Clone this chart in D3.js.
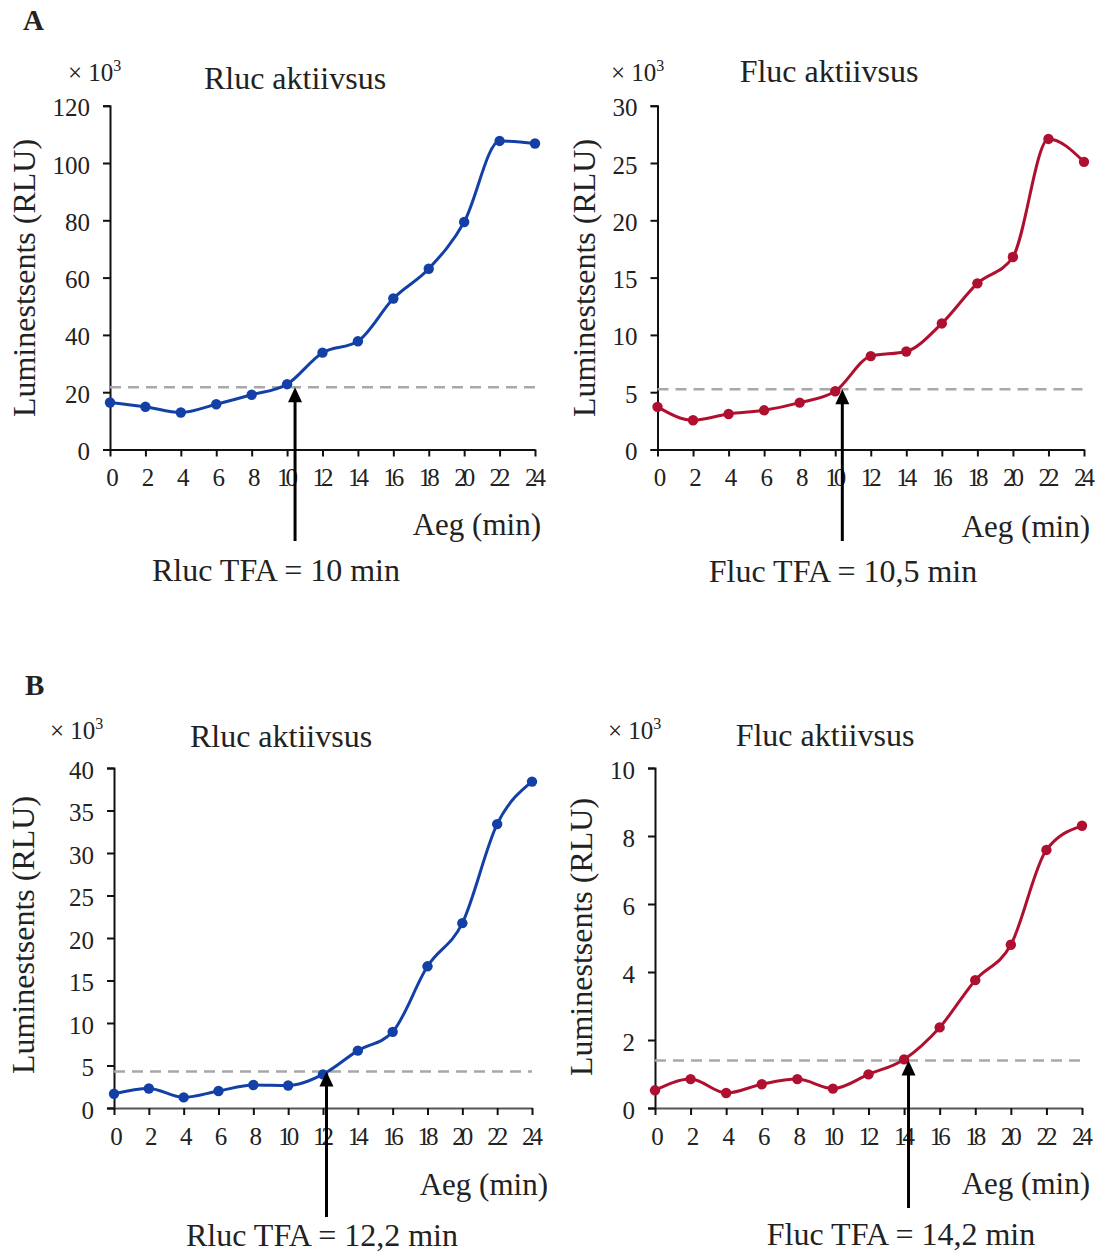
<!DOCTYPE html>
<html>
<head>
<meta charset="utf-8">
<script src="https://cdn.jsdelivr.net/npm/d3@7"></script>
<style>
  body { margin: 0; background: #fff; }
  svg text { font-family: "Liberation Serif", "Times New Roman", serif; fill: #222; }
</style>
</head>
<body>
<div id="chart"></div>
<script>
// time points (min)
var minutes = [0, 2, 4, 6, 8, 10, 12, 14, 16, 18, 20, 22, 24];

// luminescence values, x 10^3 RLU
var rlucA = [16.4, 14.9, 12.9, 15.8, 19.1, 22.8, 33.8, 37.8, 52.7, 63.1, 79.4, 107.7, 106.8];
var flucA = [3.72, 2.55, 3.1, 3.42, 4.09, 5.08, 8.15, 8.55, 11.0, 14.5, 16.8, 27.1, 25.1];
var rlucB = [1.67, 2.29, 1.25, 2.0, 2.71, 2.65, 3.96, 6.75, 8.96, 16.67, 21.75, 33.4, 38.4];
var flucB = [0.52, 0.85, 0.44, 0.70, 0.85, 0.57, 0.99, 1.43, 2.37, 3.76, 4.80, 7.59, 8.30];

// y tick labels
var ticksRlucA = [0, 20, 40, 60, 80, 100, 120];
var ticksFlucA = [0, 5, 10, 15, 20, 25, 30];
var ticksRlucB = [0, 5, 10, 15, 20, 25, 30, 35, 40];
var ticksFlucB = [0, 2, 4, 6, 8, 10];

// threshold (dashed line) and where the arrow points
var thresholds = [21.7, 5.26, 4.29, 1.40];
var arrowAt = [10.45, 10.4, 12.2, 14.25];
var tfaLabels = ["Rluc TFA = 10 min", "Fluc TFA = 10,5 min", "Rluc TFA = 12,2 min", "Fluc TFA = 14,2 min"];
var titles = ["Rluc aktiivsus", "Fluc aktiivsus", "Rluc aktiivsus", "Fluc aktiivsus"];

var blue = "#1340a6", red = "#b0102f";

var svg = d3.select("#chart").append("svg")
  .attr("width", 1095)
  .attr("height", 1256);

svg.append("text").attr("x", 23).attr("y", 30)
  .style("font-size", "29px").style("font-weight", "bold").text("A");
svg.append("text").attr("x", 25).attr("y", 695)
  .style("font-size", "29px").style("font-weight", "bold").text("B");

var panels = [
  { values: rlucA, ticks: ticksRlucA, color: blue, x0: 110, x1: 535, y0: 449.5, y1: 105.7,
    xAxisColor: "#111", expX: 68, expY: 81, titleX: 295, titleY: 89, labX: 35, labY: 278,
    aegX: 541, aegY: 535, tfaX: 276, tfaY: 581, arrowBottom: 541 },
  { values: flucA, ticks: ticksFlucA, color: red, x0: 657.5, x1: 1084, y0: 449.5, y1: 105.7,
    xAxisColor: "#111", expX: 611, expY: 81, titleX: 829, titleY: 82, labX: 595, labY: 278,
    aegX: 1090, aegY: 537, tfaX: 843, tfaY: 582, arrowBottom: 541 },
  { values: rlucB, ticks: ticksRlucB, color: blue, x0: 114, x1: 532, y0: 1108, y1: 768,
    xAxisColor: "#555", expX: 50, expY: 739, titleX: 281, titleY: 747, labX: 34, labY: 935,
    aegX: 548, aegY: 1195, tfaX: 322, tfaY: 1246, arrowBottom: 1217 },
  { values: flucB, ticks: ticksFlucB, color: red, x0: 655, x1: 1082, y0: 1108, y1: 768,
    xAxisColor: "#555", expX: 608, expY: 739, titleX: 825, titleY: 746, labX: 592, labY: 937,
    aegX: 1090, aegY: 1194, tfaX: 901, tfaY: 1245, arrowBottom: 1208 }
];

panels.forEach(function(p, i) {
  var x = d3.scaleLinear().domain([0, 24]).range([p.x0, p.x1]);
  var y = d3.scaleLinear().domain([0, d3.max(p.ticks)]).range([p.y0, p.y1]);
  var g = svg.append("g");

  // y axis
  var yAxis = g.append("g")
    .attr("transform", `translate(${p.x0},0)`)
    .call(d3.axisLeft(y).tickValues(p.ticks).tickSize(7).tickPadding(13));
  yAxis.select(".domain").attr("stroke", "#111").attr("stroke-width", 2);
  yAxis.selectAll(".tick line").attr("stroke", "#111").attr("stroke-width", 2);
  yAxis.selectAll(".tick text").attr("font-family", null).style("font-size", "25px").attr("dy", "0.4em");

  // x axis
  var xAxis = g.append("g")
    .attr("transform", `translate(0,${p.y0})`)
    .call(d3.axisBottom(x).tickValues(minutes).tickSize(7).tickPadding(12).tickSizeOuter(0));
  xAxis.select(".domain").attr("stroke", p.xAxisColor).attr("stroke-width", 2);
  xAxis.selectAll(".tick line").attr("stroke", "#111").attr("stroke-width", 2);
  xAxis.selectAll(".tick text").attr("font-family", null).style("font-size", "25px")
    .style("letter-spacing", "-4px").attr("dx", d => d >= 10 ? "-2px" : 0);

  // threshold
  g.append("line")
    .attr("x1", p.x0).attr("x2", p.x1)
    .attr("y1", y(thresholds[i])).attr("y2", y(thresholds[i]))
    .attr("stroke", "#a8a8a8").attr("stroke-width", 2.5).attr("stroke-dasharray", "11,7");

  // series
  var line = d3.line()
    .x((d, j) => x(minutes[j]))
    .y(d => y(d))
    .curve(d3.curveMonotoneX);
  g.append("path").datum(p.values)
    .attr("d", line).attr("fill", "none")
    .attr("stroke", p.color).attr("stroke-width", 3);
  g.selectAll("circle").data(p.values).enter().append("circle")
    .attr("cx", (d, j) => x(minutes[j]))
    .attr("cy", d => y(d))
    .attr("r", 5.2)
    .attr("fill", p.color);

  // arrow
  var ax = x(arrowAt[i]), ay = y(thresholds[i]);
  g.append("line")
    .attr("x1", ax).attr("x2", ax).attr("y1", ay + 12).attr("y2", p.arrowBottom)
    .attr("stroke", "#000").attr("stroke-width", 3);
  g.append("path")
    .attr("d", `M${ax},${ay} L${ax - 7},${ay + 15} L${ax + 7},${ay + 15} Z`)
    .attr("fill", "#000");

  // texts
  g.append("text").attr("x", p.expX).attr("y", p.expY).style("font-size", "25px")
    .html('× 10<tspan dy="-10" style="font-size:16px">3</tspan>');
  g.append("text").attr("x", p.titleX).attr("y", p.titleY)
    .attr("text-anchor", "middle").style("font-size", "32px").text(titles[i]);
  g.append("text")
    .attr("transform", `translate(${p.labX},${p.labY}) rotate(-90)`)
    .attr("text-anchor", "middle").style("font-size", "32px").text("Luminestsents (RLU)");
  g.append("text").attr("x", p.aegX).attr("y", p.aegY)
    .attr("text-anchor", "end").style("font-size", "31px").text("Aeg (min)");
  g.append("text").attr("x", p.tfaX).attr("y", p.tfaY)
    .attr("text-anchor", "middle").style("font-size", "32px").text(tfaLabels[i]);
});
</script>
</body>
</html>
